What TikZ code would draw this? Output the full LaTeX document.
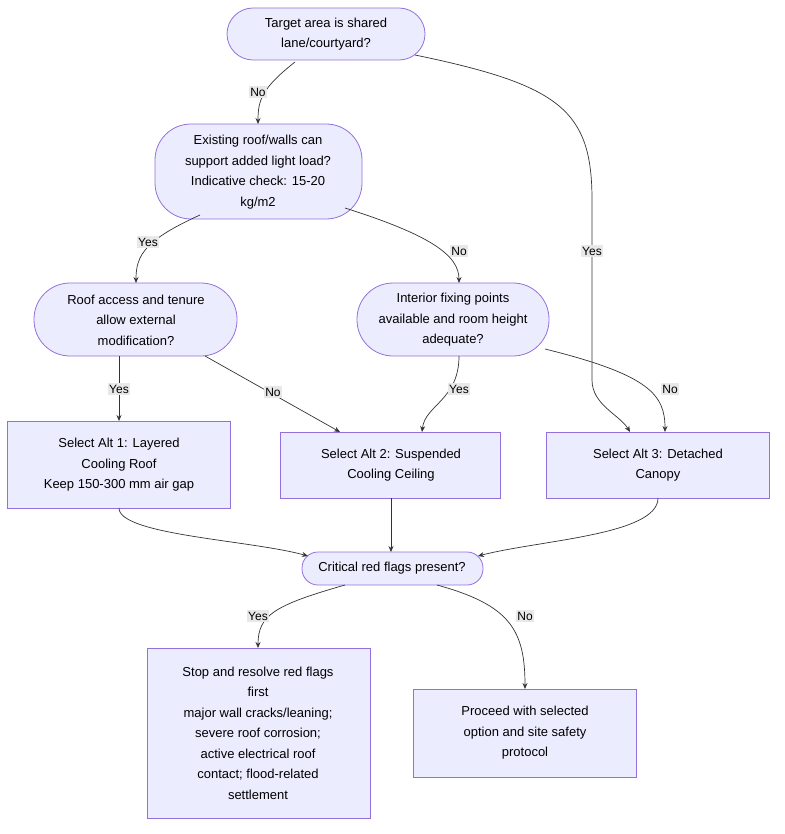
\documentclass[tikz,border=0pt]{standalone}
\usepackage{fontspec}
\setmainfont{Liberation Sans}
\usetikzlibrary{arrows.meta}
\begin{document}
\begin{tikzpicture}[x=1pt,y=-1pt,
 every node/.style={font=\fontsize{13}{20.5}\selectfont,align=center},
 box/.style={draw=#1,fill=#1!0,line width=0.8pt},
 st/.style={draw={rgb,255:red,147;green,112;blue,219},fill={rgb,255:red,236;green,236;blue,255},line width=0.8pt,rounded corners=#1},
 e/.style={draw={rgb,255:red,51;green,51;blue,51},line width=0.7pt,-{Stealth[length=6pt,width=5pt]}},
 lab/.style={fill={rgb,255:red,232;green,232;blue,232},inner sep=1.5pt,font=\fontsize{12}{14}\selectfont}]
\useasboundingbox (0,0) rectangle (784,834);
% shapes
\draw[st=26] (227,8) rectangle (425,60);
\node (A) at (326,34) {Target area is shared\\lane/courtyard?};
\draw[st=36] (155,124) rectangle (362,219);
\node (B) at (258,172) {Existing roof/walls can\\support added light load?\\Indicative check: 15-20\\kg/m2};
\draw[st=36] (34,283) rectangle (237,356);
\node (C) at (136,320) {Roof access and tenure\\allow external\\modification?};
\draw[st=36] (357,283) rectangle (549,356);
\node (D) at (453,320) {Interior fixing points\\available and room height\\adequate?};
\draw[st=0] (7,421) rectangle (230,508);
\node (E) at (119,465) {Select Alt 1: Layered\\Cooling Roof\\Keep 150-300 mm air gap};
\draw[st=0] (280,432) rectangle (500,498);
\node (F) at (391,465) {Select Alt 2: Suspended\\Cooling Ceiling};
\draw[st=0] (546,432) rectangle (769,498);
\node (G) at (658,465) {Select Alt 3: Detached\\Canopy};
\draw[st=16] (302,552) rectangle (483,585);
\node (H) at (392,568) {Critical red flags present?};
\draw[st=0] (147,648) rectangle (370,818);
\node (I) at (258,733) {Stop and resolve red flags\\first\\major wall cracks/leaning;\\severe roof corrosion;\\active electrical roof\\contact; flood-related\\settlement};
\draw[st=0] (413,689) rectangle (636,777);
\node (J) at (525,733) {Proceed with selected\\option and site safety\\protocol};
% coordinates
\coordinate (a1) at (295,62); \coordinate (b0) at (258,124);
\coordinate (a2) at (415,55); \coordinate (g0) at (630,432);
\coordinate (b1) at (200,215); \coordinate (c0) at (136,283);
\coordinate (b2) at (345,208); \coordinate (d0) at (459,283);
\coordinate (c1) at (119,356); \coordinate (e0) at (119,421);
\coordinate (c2) at (205,356); \coordinate (f0) at (340,432);
\coordinate (d1) at (459,356); \coordinate (f1) at (422,432);
\coordinate (d2) at (545,349); \coordinate (g1) at (665,432);
\coordinate (e1) at (119,508); \coordinate (h0) at (308,556);
\coordinate (f2) at (391,498); \coordinate (h1) at (391,552);
\coordinate (g2) at (658,498); \coordinate (h2) at (478,556);
\coordinate (h3) at (345,585); \coordinate (i0) at (258,648);
\coordinate (h4) at (437,585); \coordinate (j0) at (525,689);
% edges
\draw[e] (a1) .. controls (262,88) and (258,100) .. (b0);
\node[lab] at (258,92) {No};
\draw[e] (a2) .. controls (560,85) and (592,110) .. (592,200) -- (592,380) .. controls (592,405) and (620,415) .. (g0);
\node[lab] at (592,251) {Yes};
\draw[e] (b1) .. controls (145,240) and (136,255) .. (c0);
\node[lab] at (148,242) {Yes};
\draw[e] (b2) .. controls (430,235) and (459,255) .. (d0);
\node[lab] at (459,251) {No};
\draw[e] (c1) -- (e0);
\node[lab] at (119,389) {Yes};
\draw[e] (c2) -- (f0);
\node[lab] at (273,392) {No};
\draw[e] (d1) .. controls (459,400) and (425,405) .. (f1);
\node[lab] at (459,389) {Yes};
\draw[e] (d2) .. controls (650,375) and (665,395) .. (g1);
\node[lab] at (670,389) {No};
\draw[e] (e1) .. controls (119,535) and (250,540) .. (h0);
\draw[e] (f2) -- (h1);
\draw[e] (g2) .. controls (658,535) and (540,540) .. (h2);
\draw[e] (h3) .. controls (275,605) and (258,615) .. (i0);
\node[lab] at (258,616) {Yes};
\draw[e] (h4) .. controls (510,605) and (525,630) .. (j0);
\node[lab] at (525,616) {No};
\end{tikzpicture}
\end{document}
